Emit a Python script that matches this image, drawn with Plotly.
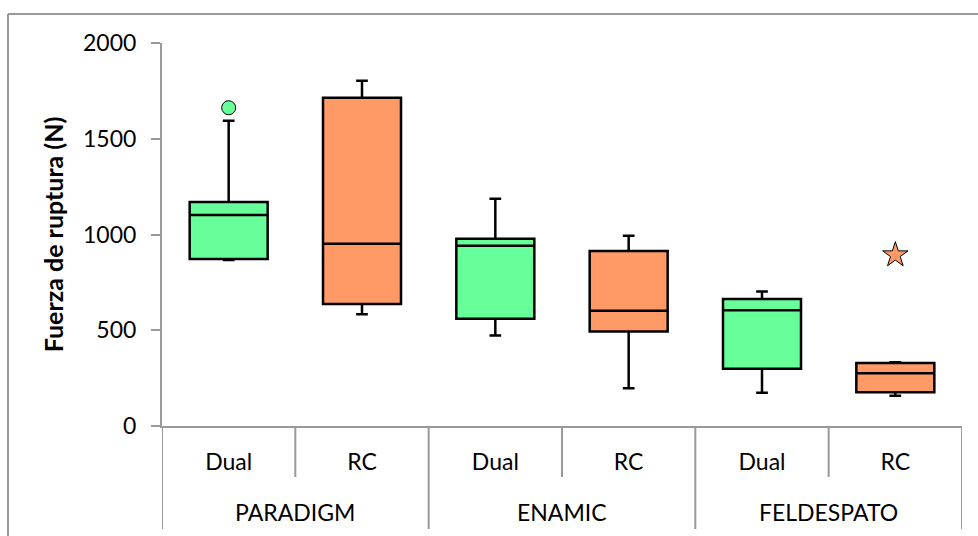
import plotly.graph_objects as go

groups = ["PARADIGM", "ENAMIC", "FELDESPATO"]
subs = ["Dual", "RC"]
q1 = [872, 637, 560, 493, 299, 176]
median = [1102, 952, 941, 602, 604, 275]
q3 = [1170, 1714, 978, 914, 663, 329]
lower = [867, 583, 472, 197, 174, 158]
upper = [1594, 1803, 1187, 994, 703, 333]
out_dual_x = [0]
out_dual_y = [1662]
out_rc_x = [5]
out_rc_y = [893]

GREEN = "#66FF99"
ORANGE = "#FF9966"
GRAY = "#999999"
FONT = "Lato"

positions = list(range(len(groups) * len(subs)))
labels = [s for g in groups for s in subs]

fig = go.Figure()
for k, color in enumerate([GREEN, ORANGE]):
    idx = [i for i in positions if i % 2 == k]
    fig.add_trace(go.Box(
        x=idx,
        q1=[q1[i] for i in idx],
        median=[median[i] for i in idx],
        q3=[q3[i] for i in idx],
        lowerfence=[lower[i] for i in idx],
        upperfence=[upper[i] for i in idx],
        fillcolor=color,
        line=dict(color="black", width=2.5),
        width=0.585,
        whiskerwidth=0.15,
        boxpoints=False,
        showlegend=False,
        hoverinfo="skip",
    ))

fig.add_trace(go.Scatter(x=out_dual_x, y=out_dual_y, mode="markers",
                         marker=dict(symbol="circle", size=14, color=GREEN,
                                     line=dict(color="black", width=1)),
                         showlegend=False))
fig.add_trace(go.Scatter(x=out_rc_x, y=out_rc_y, mode="markers",
                         marker=dict(symbol="star", size=19, color=ORANGE,
                                     line=dict(color="black", width=1)),
                         showlegend=False))

W, H = 978, 536
L, R, T, B = 162, 16, 43, 110
pw, ph = W - L - R, H - T - B

def py(pix):
    return (H - B - pix) / ph

def px(pix):
    return (pix - L) / pw

shapes = []
# sub-dividers (between Dual and RC)
for gi in range(len(groups)):
    xv = gi * 2 + 0.5
    shapes.append(dict(type="line", xref="x", yref="paper", x0=xv, x1=xv,
                       y0=0, y1=py(477), line=dict(color=GRAY, width=2)))
# group dividers
for gi in range(len(groups) + 1):
    xv = gi * 2 - 0.5
    shapes.append(dict(type="line", xref="x", yref="paper", x0=xv, x1=xv,
                       y0=0, y1=py(529), line=dict(color=GRAY, width=2)))
# outer chart border (top & left)
shapes.append(dict(type="line", xref="paper", yref="paper", x0=px(8), x1=px(980),
                   y0=py(14), y1=py(14), line=dict(color=GRAY, width=2)))
shapes.append(dict(type="line", xref="paper", yref="paper", x0=px(8), x1=px(8),
                   y0=py(14), y1=py(540), line=dict(color=GRAY, width=2)))

annotations = []
for gi, g in enumerate(groups):
    annotations.append(dict(x=gi * 2 + 0.5, y=py(512), xref="x", yref="paper",
                            text=g, showarrow=False,
                            font=dict(family=FONT, size=23, color="black"),
                            xanchor="center", yanchor="middle"))

fig.update_layout(
    width=W, height=H,
    margin=dict(l=L, r=R, t=T, b=B, autoexpand=False),
    paper_bgcolor="white", plot_bgcolor="white",
    shapes=shapes, annotations=annotations,
    xaxis=dict(range=[-0.5, 5.5], tickmode="array", tickvals=positions,
               ticktext=labels, showgrid=False, zeroline=False,
               showline=True, linecolor=GRAY, linewidth=2, ticks="",
               ticklabelstandoff=14,
               tickfont=dict(family=FONT, size=23, color="black")),
    yaxis=dict(range=[0, 2000], tickvals=[0, 500, 1000, 1500, 2000],
               showgrid=False, zeroline=False, showline=True, linecolor=GRAY,
               linewidth=2, ticks="outside", ticklen=9, tickcolor=GRAY,
               tickwidth=2, ticklabelstandoff=10,
               tickfont=dict(family=FONT, size=23, color="black"),
               title=dict(text="<b>Fuerza de ruptura (N)</b>", standoff=12,
                          font=dict(family=FONT, size=25, color="black"))),
)

fig.write_html("out.html")
